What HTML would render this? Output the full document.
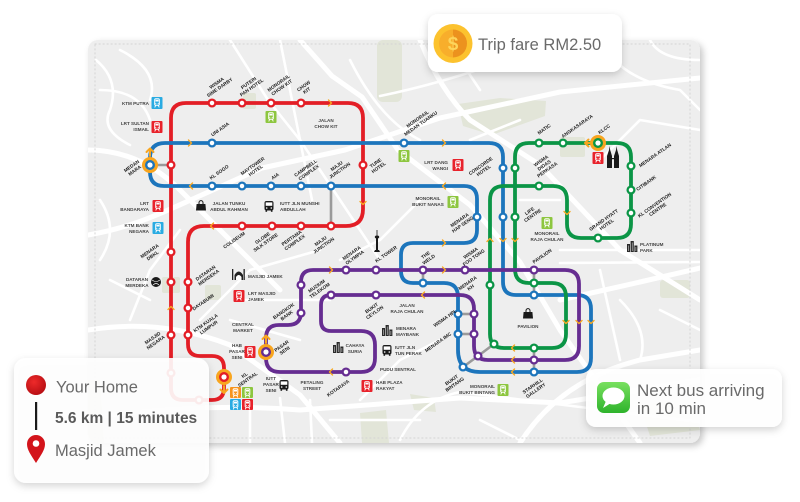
<!DOCTYPE html>
<html><head><meta charset="utf-8">
<style>
html,body{margin:0;padding:0;width:800px;height:502px;overflow:hidden;background:#fff;}
svg{position:absolute;left:0;top:0;}
.r{font-family:"Liberation Sans",sans-serif;font-weight:bold;font-size:4.8px;text-anchor:middle;fill:#1c1c1c;}
.p{font-family:"Liberation Sans",sans-serif;font-weight:bold;font-size:4.6px;fill:#444;}
.c{text-anchor:middle;}
.e{text-anchor:end;}
.big{font-family:"Liberation Sans",sans-serif;fill:#6a6a6a;}
</style></head>
<body>
<svg width="800" height="502" viewBox="0 0 800 502" xmlns="http://www.w3.org/2000/svg">
<defs>
<filter id="sh" x="-20%" y="-20%" width="140%" height="150%"><feDropShadow dx="0" dy="3" stdDeviation="4" flood-color="#000" flood-opacity="0.18"/></filter>
<filter id="sh2" x="-5%" y="-5%" width="112%" height="112%"><feDropShadow dx="3" dy="3" stdDeviation="3.5" flood-color="#000" flood-opacity="0.22"/></filter>
<clipPath id="mc"><rect x="88" y="40" width="612" height="403" rx="10"/></clipPath>
<linearGradient id="gmsg" x1="0" y1="0" x2="0" y2="1"><stop offset="0" stop-color="#78e05f"/><stop offset="1" stop-color="#2eb32c"/></linearGradient>
<radialGradient id="gred" cx="0.4" cy="0.35" r="0.7"><stop offset="0" stop-color="#ee2a2a"/><stop offset="1" stop-color="#b50d12"/></radialGradient>
<g id="tr"><rect x="3.2" y="1.8" width="4.6" height="6.4" rx="1.1" fill="none" stroke="#fff" stroke-width="1"/><rect x="4" y="2.8" width="3" height="1.7" fill="#fff"/><circle cx="4.3" cy="6.5" r=".5" fill="#fff"/><circle cx="6.7" cy="6.5" r=".5" fill="#fff"/><path d="M4.2 8.4 L3.2 10.4 M6.8 8.4 L7.8 10.4" stroke="#fff" stroke-width=".9"/></g>
<g id="bus"><rect x="0" y="0" width="9" height="9.5" rx="2" fill="#1a1a1a"/><rect x="1.2" y="1.4" width="6.6" height="3.4" fill="#fff"/><circle cx="2.2" cy="7" r=".8" fill="#fff"/><circle cx="6.8" cy="7" r=".8" fill="#fff"/><rect x="1" y="9.3" width="1.6" height="1.5" fill="#1a1a1a"/><rect x="6.4" y="9.3" width="1.6" height="1.5" fill="#1a1a1a"/></g>
<g id="bag"><path d="M0.6 4 L9.4 4 L10 10.5 L0 10.5 Z" fill="#1a1a1a"/><path d="M3 4.5 V2.6 a2 2 0 0 1 4 0 V4.5" fill="none" stroke="#1a1a1a" stroke-width="1"/></g>
<g id="bld"><rect x="0" y="3" width="3" height="8" fill="#2a2a2a"/><rect x="3.6" y="0" width="3.2" height="11" fill="#2a2a2a"/><rect x="7.4" y="4.5" width="3" height="6.5" fill="#2a2a2a"/><path d="M1.5 4.5V10M5.2 1.5V10M8.9 6V10" stroke="#eee" stroke-width=".5"/></g>
</defs>

<!-- map card -->
<rect x="88" y="40" width="612" height="403" rx="10" fill="#eeeeee" filter="url(#sh2)"/>
<g clip-path="url(#mc)" fill="none" stroke="#fff" stroke-linecap="round" stroke-linejoin="round">
  <!-- parks -->
  <g stroke="none" fill="#e2e5d8">
    <path d="M458 104 L500 98 L546 101 L545 116 L492 135 L463 126 Z"/>
    <rect x="560" y="137" width="25" height="20" rx="2"/>
    <rect x="377" y="40" width="25" height="62" rx="6"/>
    <rect x="243" y="93" width="13" height="16" rx="2"/>
    <rect x="162" y="277" width="18" height="16" rx="2"/>
    <rect x="205" y="285" width="16" height="15" rx="2"/>
    <path d="M360 413 L386 410 L389 443 L362 443 Z"/>
    <path d="M410 394 L434 398 L436 412 L414 410 Z"/>
    <path d="M640 405 L690 398 L700 430 L650 436 Z"/>
    <path d="M88 380 L100 380 L104 443 L88 443 Z"/>
    <rect x="660" y="280" width="30" height="18" rx="3"/>
  </g>
  <!-- major roads -->
  <g stroke-width="5">
    <path d="M88 235 C130 228 160 214 195 198 L262 168 L345 150 L440 118 L560 92 L700 78"/>
    <path d="M300 40 L332 76 L362 97 L398 150 L432 176 L470 205 L520 262 L560 330 L640 443"/>
    <path d="M88 330 Q160 318 230 345 L300 395 L340 443"/>
    <path d="M88 418 Q200 402 300 410 L460 398 L560 403 L700 380"/>
    <path d="M520 443 Q560 380 640 360 L700 350"/>
    <path d="M560 300 L640 282 L700 268"/>
    <path d="M420 40 Q440 90 470 120 L540 165 L620 250 L700 300"/>
    <path d="M88 150 Q140 150 180 190 L240 250 L280 290"/>
  </g>
  <g stroke-width="2.6">
    <path d="M230 40 L268 100 L300 140 L340 200 L380 260"/>
    <path d="M280 40 L312 200"/>
    <path d="M380 96 Q460 80 560 40"/>
    <path d="M560 250 L700 250"/>
    <path d="M560 263 L700 262"/>
    <path d="M600 270 L620 360"/>
    <path d="M240 300 L330 300 M230 320 L300 340 M250 400 L250 443 M280 398 L285 443 M310 400 L312 443"/>
    <path d="M400 440 Q420 400 460 392 L700 422"/>
    <path d="M96 60 Q120 80 110 110 Q100 130 130 145 M100 90 Q140 90 150 120 M120 50 Q160 70 150 100"/>
    <path d="M180 230 L150 270 L130 320 M200 320 L250 270 L320 250"/>
    <path d="M420 200 L380 240 L340 260 M440 340 L400 360 L360 400"/>
    <path d="M600 40 Q620 80 680 90 L700 110 M650 40 Q660 60 700 60"/>
    <path d="M520 200 L560 200 M470 140 L520 120 M600 160 L640 120 L700 130"/>
    <path d="M620 300 Q650 330 640 360 M660 310 L700 330"/>
    <path d="M100 200 Q120 230 100 260 M110 280 L150 300"/>
    <path d="M330 420 L420 420 M480 420 L520 440"/>
    <path d="M350 60 Q380 120 420 140 M460 60 L480 90"/>
  </g>
  <rect x="95" y="44" width="595" height="394" stroke="#d4d4d4" stroke-width="1" stroke-dasharray="1.2 2.8" fill="none"/>
</g>

<!-- connectors -->
<g stroke="#9a9a9a" stroke-width="2.6" fill="none">
  <path d="M150 165 L171 165"/>
  <path d="M331 186 L331 226"/>
  <path d="M423 270 L423 283"/>
  <path d="M534 270 L534 295"/>
  <path d="M458 314 L474 314"/>
  <path d="M458 334 L474 334"/>
  <path d="M534 348 L534 372"/>
  <path d="M463 367 L478 356 L494 344"/>
</g>

<!-- lines -->
<g fill="none" stroke-width="3.8" stroke-linejoin="round">
  <path stroke="#e31e26" d="M224 377 L224 388 Q224 400 212 400 L183 400 Q171 400 171 388 L171 118 Q171 103 186 103 L348 103 Q363 103 363 118 L363 209 Q363 226 346 226 L204 226 Q188 226 188 242 L188 344 Q188 356 200 356 L212 356 Q224 356 224 368 Z"/>
  <path stroke="#1c75bc" d="M150 165 L150 158 Q150 143 165 143 L489 143 Q503 143 503 157 L503 282 Q503 295 516 295 L577 295 Q591 295 591 309 L591 358 Q591 372 577 372 L480 372 Q458 372 458 350 L458 297 Q458 283 444 283 L413 283 Q401 283 401 271 L401 255 Q401 243 413 243 L464 243 Q477 243 477 230 L477 199 Q477 186 464 186 L164 186 Q150 186 150 172 Z"/>
  <path stroke="#0b9546" d="M515 157 Q515 143 529 143 L617 143 Q631 143 631 157 L631 224 Q631 238 617 238 L581 238 Q567 238 567 224 L567 200 Q567 186 553 186 L504 186 Q490 186 490 200 L490 334 Q490 348 504 348 L552 348 Q566 348 566 334 L566 297 Q566 283 552 283 L529 283 Q515 283 515 269 Z"/>
  <path stroke="#662d91" d="M313 270 L565 270 Q579 270 579 284 L579 346 Q579 360 565 360 L488 360 Q474 360 474 346 L474 309 Q474 295 460 295 L331 295 Q321 295 321 305 L321 321 Q321 331 331 331 L361 331 Q375 331 375 345 L375 358 Q375 372 361 372 L280 372 Q266 372 266 358 L266 338 Q266 325 279 325 L288 325 Q301 325 301 312 L301 282 Q301 270 313 270 Z"/>
</g>

<!-- stations -->
<g fill="#fff" stroke-width="2.3">
  <g stroke="#e31e26">
    <circle cx="212" cy="103" r="3.4"/><circle cx="242" cy="103" r="3.4"/><circle cx="271" cy="103" r="3.4"/><circle cx="301" cy="103" r="3.4"/>
    <circle cx="171" cy="165" r="3.4"/><circle cx="363" cy="165" r="3.4"/>
    <circle cx="242" cy="226" r="3.4"/><circle cx="272" cy="226" r="3.4"/><circle cx="301" cy="226" r="3.4"/><circle cx="331" cy="226" r="3.4"/>
    <circle cx="171" cy="252" r="3.4"/><circle cx="171" cy="282" r="3.4"/><circle cx="171" cy="335" r="3.4"/>
    <circle cx="188" cy="282" r="3.4"/><circle cx="188" cy="308" r="3.4"/><circle cx="188" cy="335" r="3.4"/>
    <circle cx="171" cy="373" r="3.4"/><circle cx="199" cy="400" r="3.4"/>
  </g>
  <g stroke="#1c75bc">
    <circle cx="212" cy="143" r="3.4"/><circle cx="404" cy="143" r="3.4"/>
    <circle cx="212" cy="186" r="3.4"/><circle cx="242" cy="186" r="3.4"/><circle cx="271" cy="186" r="3.4"/><circle cx="301" cy="186" r="3.4"/><circle cx="331" cy="186" r="3.4"/>
    <circle cx="503" cy="168" r="3.4"/><circle cx="477" cy="217" r="3.4"/><circle cx="503" cy="217" r="3.4"/>
    <circle cx="423" cy="283" r="3.4"/><circle cx="534" cy="295" r="3.4"/>
    <circle cx="458" cy="314" r="3.4"/><circle cx="458" cy="334" r="3.4"/><circle cx="463" cy="367" r="3.4"/><circle cx="534" cy="372" r="3.4"/>
  </g>
  <g stroke="#0b9546">
    <circle cx="539" cy="143" r="3.4"/><circle cx="563" cy="143" r="3.4"/>
    <circle cx="631" cy="166" r="3.4"/><circle cx="631" cy="190" r="3.4"/><circle cx="631" cy="213" r="3.4"/><circle cx="598" cy="238" r="3.4"/>
    <circle cx="539" cy="186" r="3.4"/><circle cx="515" cy="168" r="3.4"/><circle cx="515" cy="217" r="3.4"/>
    <circle cx="490" cy="285" r="3.4"/><circle cx="534" cy="283" r="3.4"/><circle cx="494" cy="344" r="3.4"/><circle cx="534" cy="348" r="3.4"/>
  </g>
  <g stroke="#662d91">
    <circle cx="346" cy="270" r="3.4"/><circle cx="376" cy="270" r="3.4"/><circle cx="423" cy="270" r="3.4"/><circle cx="465" cy="270" r="3.4"/><circle cx="534" cy="270" r="3.4"/>
    <circle cx="301" cy="285" r="3.4"/><circle cx="301" cy="313" r="3.4"/>
    <circle cx="331" cy="295" r="3.4"/><circle cx="376" cy="295" r="3.4"/>
    <circle cx="474" cy="314" r="3.4"/><circle cx="474" cy="334" r="3.4"/><circle cx="478" cy="356" r="3.4"/>
    <circle cx="534" cy="360" r="3.4"/><circle cx="346" cy="372" r="3.4"/>
  </g>
</g>

<!-- interchange markers -->
<g>
  <circle cx="150" cy="165" r="8" fill="#f8a51f"/><circle cx="150" cy="165" r="3.8" fill="#fff" stroke="#1c75bc" stroke-width="2.4"/>
  <circle cx="598" cy="143" r="8" fill="#f8a51f"/><circle cx="598" cy="143" r="3.8" fill="#fff" stroke="#0b9546" stroke-width="2.4"/>
  <circle cx="266" cy="352" r="8" fill="#f8a51f"/><circle cx="266" cy="352" r="3.8" fill="#fff" stroke="#662d91" stroke-width="2.4"/>
  <circle cx="224" cy="377" r="8" fill="#f8a51f"/><circle cx="224" cy="377" r="3.8" fill="#fff" stroke="#e31e26" stroke-width="2.4"/>
</g>
<g fill="none" stroke="#f8a51f" stroke-width="2" stroke-linecap="round" stroke-linejoin="round">
  <path d="M150 156 L150 149 M146.5 152 L150 148.5 L153.5 152"/>
  <path d="M590 143 L585 143 M588.5 139.5 L585 143 L588.5 146.5"/>
  <path d="M266 343 L266 336 M262.5 339 L266 335.5 L269.5 339"/>
  <path d="M224 386 L224 393 M220.5 389.5 L224 393 L227.5 389.5"/>
</g>
<!-- direction chevrons -->
<g fill="none" stroke="#f7a823" stroke-width="1.4" stroke-linecap="round" stroke-linejoin="round">
  <path d="M328.5 100 L331.5 103 L328.5 106"/>
  <path d="M360 201.5 L363 204.5 L366 201.5"/>
  <path d="M213.5 223 L210.5 226 L213.5 229"/>
  <path d="M168 309.5 L171 306.5 L174 309.5"/>
  <path d="M188.5 140 L191.5 143 L188.5 146"/>
  <path d="M442.5 140 L445.5 143 L442.5 146"/>
  <path d="M192.5 183 L189.5 186 L192.5 189"/>
  <path d="M445.5 183 L442.5 186 L445.5 189"/>
  <path d="M500 238.5 L503 241.5 L506 238.5"/>
  <path d="M442.5 240 L445.5 243 L442.5 246"/>
  <path d="M588 320.5 L591 323.5 L594 320.5"/>
  <path d="M514.5 369 L511.5 372 L514.5 375"/>
  <path d="M564 211.5 L567 214.5 L570 211.5"/>
  <path d="M487 241.5 L490 238.5 L493 241.5"/>
  <path d="M512 238.5 L515 241.5 L518 238.5"/>
  <path d="M563 320.5 L566 323.5 L569 320.5"/>
  <path d="M514.5 345 L511.5 348 L514.5 351"/>
  <path d="M329.5 267 L332.5 270 L329.5 273"/>
  <path d="M442.5 267 L445.5 270 L442.5 273"/>
  <path d="M576 320.5 L579 323.5 L582 320.5"/>
  <path d="M514.5 357 L511.5 360 L514.5 363"/>
  <path d="M424.5 292 L421.5 295 L424.5 298"/>
  <path d="M332.5 369 L329.5 372 L332.5 375"/>
</g>

<!-- rail icons -->
<g>
  <g transform="translate(151.5,97)"><rect width="11" height="12" rx="1" fill="#29abe2"/><use href="#tr"/></g>
  <g transform="translate(152.5,222)"><rect width="11" height="12" rx="1" fill="#29abe2"/><use href="#tr"/></g>
  <g transform="translate(151.5,121)"><rect width="11" height="12" rx="1" fill="#e8222b"/><use href="#tr"/></g>
  <g transform="translate(152.5,200)"><rect width="11" height="12" rx="1" fill="#e8222b"/><use href="#tr"/></g>
  <g transform="translate(452.5,159)"><rect width="11" height="12" rx="1" fill="#e8222b"/><use href="#tr"/></g>
  <g transform="translate(233.5,290)"><rect width="11" height="12" rx="1" fill="#e8222b"/><use href="#tr"/></g>
  <g transform="translate(244.5,346)"><rect width="11" height="12" rx="1" fill="#e8222b"/><use href="#tr"/></g>
  <g transform="translate(361.5,380)"><rect width="11" height="12" rx="1" fill="#e8222b"/><use href="#tr"/></g>
  <g transform="translate(592.5,152)"><rect width="11" height="12" rx="1" fill="#e8222b"/><use href="#tr"/></g>
  <g transform="translate(265.5,111)"><rect width="11" height="12" rx="1" fill="#8dc63f"/><use href="#tr"/></g>
  <g transform="translate(398.5,150)"><rect width="11" height="12" rx="1" fill="#8dc63f"/><use href="#tr"/></g>
  <g transform="translate(447.5,196)"><rect width="11" height="12" rx="1" fill="#8dc63f"/><use href="#tr"/></g>
  <g transform="translate(541.5,217)"><rect width="11" height="12" rx="1" fill="#8dc63f"/><use href="#tr"/></g>
  <g transform="translate(497.5,384)"><rect width="11" height="12" rx="1" fill="#8dc63f"/><use href="#tr"/></g>
  <!-- KL Sentral group -->
  <g transform="translate(230,387)"><rect width="11" height="11" rx="1" fill="#f7941d"/><use href="#tr"/></g>
  <g transform="translate(242,387)"><rect width="11" height="11" rx="1" fill="#8dc63f"/><use href="#tr"/></g>
  <g transform="translate(230,399)"><rect width="11" height="11" rx="1" fill="#29abe2"/><use href="#tr"/></g>
  <g transform="translate(242,399)"><rect width="11" height="11" rx="1" fill="#e8222b"/><use href="#tr"/></g>
</g>
<!-- other icons -->
<g>
  <use href="#bag" transform="translate(196,200)"/>
  <use href="#bag" transform="translate(523,308)"/>
  <use href="#bus" transform="translate(264.5,201)"/>
  <use href="#bus" transform="translate(279.5,380)"/>
  <use href="#bus" transform="translate(382.5,345)"/>
  <use href="#bld" transform="translate(333,342)"/>
  <use href="#bld" transform="translate(382,325)"/>
  <use href="#bld" transform="translate(627,241)"/>
  <circle cx="156" cy="282" r="5" fill="#1a1a1a"/><path d="M152 280 Q156 283 160 280 M153 285 Q156 282 159 285" stroke="#fff" stroke-width=".6" fill="none"/>
  <g fill="#222"><rect x="232" y="269" width="1.3" height="11"/><rect x="243.5" y="269" width="1.3" height="11"/><path d="M234.5 280 V275 Q238.7 268 243 275 V280 Z"/><path d="M236 280 V277 Q238.7 273 241.5 277 V280 Z" fill="#fff"/></g>
  <g fill="#1a1a1a"><rect x="376" y="236" width="2" height="14"/><path d="M375 250 L379 250 L380 252 L374 252 Z"/><ellipse cx="377" cy="237" rx="2.2" ry="1.5"/><rect x="376.6" y="230" width=".8" height="6"/></g>
  <g fill="#1a1a1a"><path d="M607 168 L607 156 L609 150 L609.6 146 L610.2 150 L612 156 L612 168 Z"/><path d="M614 168 L614 156 L616 150 L616.6 146 L617.2 150 L619 156 L619 168 Z"/><rect x="611" y="158" width="4" height="1.2"/></g>
</g>

<!-- POI labels -->
<g class="p">
  <text x="149" y="105" class="e">KTM PUTRA</text>
  <text class="e"><tspan x="149" y="125">LRT SULTAN</tspan><tspan x="149" y="131">ISMAIL</tspan></text>
  <text class="c"><tspan x="326" y="122">JALAN</tspan><tspan x="326" y="128">CHOW KIT</tspan></text>
  <text class="e"><tspan x="448" y="164">LRT DANG</tspan><tspan x="448" y="170">WANGI</tspan></text>
  <text class="e"><tspan x="149" y="205">LRT</tspan><tspan x="149" y="211">BANDARAYA</tspan></text>
  <text class="e"><tspan x="149" y="227">KTM BANK</tspan><tspan x="149" y="233">NEGARA</tspan></text>
  <text class="c"><tspan x="229" y="205">JALAN TUNKU</tspan><tspan x="229" y="211">ABDUL RAHMAN</tspan></text>
  <text><tspan x="280" y="205">IUTT JLN MUNSHI</tspan><tspan x="280" y="211">ABDULLAH</tspan></text>
  <text class="c"><tspan x="428" y="200">MONORAIL</tspan><tspan x="428" y="206">BUKIT NANAS</tspan></text>
  <text class="c"><tspan x="547" y="235">MONORAIL</tspan><tspan x="547" y="241">RAJA CHULAN</tspan></text>
  <text><tspan x="640" y="246">PLATINUM</tspan><tspan x="640" y="252">PARK</tspan></text>
  <text class="c"><tspan x="137" y="281">DATARAN</tspan><tspan x="137" y="287">MERDEKA</tspan></text>
  <text x="248" y="278">MASJID JAMEK</text>
  <text><tspan x="248" y="295">LRT MASJID</tspan><tspan x="248" y="301">JAMEK</tspan></text>
  <text class="c"><tspan x="243" y="326">CENTRAL</tspan><tspan x="243" y="332">MARKET</tspan></text>
  <text class="c"><tspan x="237" y="347">HAB</tspan><tspan x="237" y="353">PASAR</tspan><tspan x="237" y="359">SENI</tspan></text>
  <text class="c"><tspan x="271" y="380">IUTT</tspan><tspan x="271" y="386">PASAR</tspan><tspan x="271" y="392">SENI</tspan></text>
  <text class="c"><tspan x="312" y="384">PETALING</tspan><tspan x="312" y="390">STREET</tspan></text>
  <text class="c"><tspan x="355" y="347">CAHAYA</tspan><tspan x="355" y="353">SURIA</tspan></text>
  <text class="c"><tspan x="407" y="307">JALAN</tspan><tspan x="407" y="313">RAJA CHULAN</tspan></text>
  <text><tspan x="396" y="330">MENARA</tspan><tspan x="396" y="336">MAYBANK</tspan></text>
  <text><tspan x="395" y="349">IUTT JLN</tspan><tspan x="395" y="355">TUN PERAK</tspan></text>
  <text x="380" y="371">PUDU SENTRAL</text>
  <text><tspan x="376" y="384">HAB PLAZA</tspan><tspan x="376" y="390">RAKYAT</tspan></text>
  <text class="e"><tspan x="495" y="388">MONORAIL</tspan><tspan x="495" y="394">BUKIT BINTANG</tspan></text>
  <text x="528" y="328" class="c">PAVILION</text>
</g>

<!-- station labels (rotated) -->
<g class="r">
  <text transform="translate(218,85) rotate(-35)"><tspan x="0" y="-0.8">WISMA</tspan><tspan x="0" y="4.6">SIME DARBY</tspan></text>
  <text transform="translate(250,85) rotate(-35)"><tspan x="0" y="-0.8">PUTERI</tspan><tspan x="0" y="4.6">PAN HOTEL</tspan></text>
  <text transform="translate(280,85) rotate(-35)"><tspan x="0" y="-0.8">MONORAIL</tspan><tspan x="0" y="4.6">CHOW KIT</tspan></text>
  <text transform="translate(305,88) rotate(-35)"><tspan x="0" y="-0.8">CHOW</tspan><tspan x="0" y="4.6">KIT</tspan></text>
  <text transform="translate(220,129) rotate(-35)" y="1.8">UNI ASIA</text>
  <text transform="translate(419,121) rotate(-35)"><tspan x="0" y="-0.8">MONORAIL</tspan><tspan x="0" y="4.6">MEDAN TUANKU</tspan></text>
  <text transform="translate(133,168) rotate(-35)"><tspan x="0" y="-0.8">MEDAN</tspan><tspan x="0" y="4.6">MARA</tspan></text>
  <text transform="translate(219,172) rotate(-35)" y="1.8">KL SOGO</text>
  <text transform="translate(254,168) rotate(-35)"><tspan x="0" y="-0.8">MAYTOWER</tspan><tspan x="0" y="4.6">HOTEL</tspan></text>
  <text transform="translate(275,176) rotate(-35)" y="1.8">AIA</text>
  <text transform="translate(307,170) rotate(-35)"><tspan x="0" y="-0.8">CAMPBELL</tspan><tspan x="0" y="4.6">COMPLEX</tspan></text>
  <text transform="translate(338,168) rotate(-35)"><tspan x="0" y="-0.8">MAJU</tspan><tspan x="0" y="4.6">JUNCTION</tspan></text>
  <text transform="translate(377,165) rotate(-35)"><tspan x="0" y="-0.8">TUNE</tspan><tspan x="0" y="4.6">HOTEL</tspan></text>
  <text transform="translate(234,240) rotate(-35)" y="1.8">COLISEUM</text>
  <text transform="translate(264,240) rotate(-35)"><tspan x="0" y="-0.8">GLOBE</tspan><tspan x="0" y="4.6">SILK STORE</tspan></text>
  <text transform="translate(293,240) rotate(-35)"><tspan x="0" y="-0.8">PERTAMA</tspan><tspan x="0" y="4.6">COMPLEX</tspan></text>
  <text transform="translate(322,243) rotate(-35)"><tspan x="0" y="-0.8">MAJU</tspan><tspan x="0" y="4.6">JUNCTION</tspan></text>
  <text transform="translate(151,253) rotate(-35)"><tspan x="0" y="-0.8">MENARA</tspan><tspan x="0" y="4.6">DBKL</tspan></text>
  <text transform="translate(207,275) rotate(-35)"><tspan x="0" y="-0.8">DATARAN</tspan><tspan x="0" y="4.6">MERDEKA</tspan></text>
  <text transform="translate(203,302) rotate(-35)" y="1.8">DAYABUMI</text>
  <text transform="translate(207,325) rotate(-35)"><tspan x="0" y="-0.8">KTM KUALA</tspan><tspan x="0" y="4.6">LUMPUR</tspan></text>
  <text transform="translate(154,340) rotate(-35)"><tspan x="0" y="-0.8">MASJID</tspan><tspan x="0" y="4.6">NEGARA</tspan></text>
  <text transform="translate(353,255) rotate(-35)"><tspan x="0" y="-0.8">MENARA</tspan><tspan x="0" y="4.6">OLYMPIA</tspan></text>
  <text transform="translate(386,254) rotate(-35)" y="1.8">KL TOWER</text>
  <text transform="translate(427,257) rotate(-35)"><tspan x="0" y="-0.8">THE</tspan><tspan x="0" y="4.6">WELD</tspan></text>
  <text transform="translate(472,255) rotate(-35)"><tspan x="0" y="-0.8">WISMA</tspan><tspan x="0" y="4.6">FOO TONG</tspan></text>
  <text transform="translate(542,256) rotate(-35)" y="1.8">PAVILION</text>
  <text transform="translate(318,288) rotate(-35)"><tspan x="0" y="-0.8">MUZIUM</tspan><tspan x="0" y="4.6">TELEKOM</tspan></text>
  <text transform="translate(285,313) rotate(-35)"><tspan x="0" y="-0.8">BANGKOK</tspan><tspan x="0" y="4.6">BANK</tspan></text>
  <text transform="translate(283,348) rotate(-35)"><tspan x="0" y="-0.8">PASAR</tspan><tspan x="0" y="4.6">SENI</tspan></text>
  <text transform="translate(373,310) rotate(-35)"><tspan x="0" y="-0.8">BUKIT</tspan><tspan x="0" y="4.6">CEYLON</tspan></text>
  <text transform="translate(338,388) rotate(-35)" y="1.8">KOTARAYA</text>
  <text transform="translate(246,377) rotate(-35)"><tspan x="0" y="-0.8">KL</tspan><tspan x="0" y="4.6">SENTRAL</tspan></text>
  <text transform="translate(482,168) rotate(-35)"><tspan x="0" y="-0.8">CONCORDE</tspan><tspan x="0" y="4.6">HOTEL</tspan></text>
  <text transform="translate(544,165) rotate(-35)"><tspan x="0" y="-3.5">WISMA</tspan><tspan x="0" y="1.9">DIDAS</tspan><tspan x="0" y="7.3">PERKASA</tspan></text>
  <text transform="translate(544,129) rotate(-35)" y="1.8">MATIC</text>
  <text transform="translate(577,126) rotate(-35)" y="1.8">ANGKASARAYA</text>
  <text transform="translate(604,129) rotate(-35)" y="1.8">KLCC</text>
  <text transform="translate(655,155) rotate(-35)" y="1.8">MENARA ATLAN</text>
  <text transform="translate(646,183) rotate(-35)" y="1.8">CITIBANK</text>
  <text transform="translate(656,207) rotate(-35)"><tspan x="0" y="-0.8">KL CONVENTION</tspan><tspan x="0" y="4.6">CENTRE</tspan></text>
  <text transform="translate(605,222) rotate(-35)"><tspan x="0" y="-0.8">GRAND HYATT</tspan><tspan x="0" y="4.6">HOTEL</tspan></text>
  <text transform="translate(531,213) rotate(-35)"><tspan x="0" y="-0.8">LIFE</tspan><tspan x="0" y="4.6">CENTRE</tspan></text>
  <text transform="translate(461,222) rotate(-35)"><tspan x="0" y="-0.8">MENARA</tspan><tspan x="0" y="4.6">HAP SENG</tspan></text>
  <text transform="translate(469,285) rotate(-35)"><tspan x="0" y="-0.8">MENARA</tspan><tspan x="0" y="4.6">KH</tspan></text>
  <text transform="translate(445,318) rotate(-35)" y="1.8">WISMA HPL</text>
  <text transform="translate(438,342) rotate(-35)" y="1.8">MENARA IMC</text>
  <text transform="translate(453,382) rotate(-35)"><tspan x="0" y="-0.8">BUKIT</tspan><tspan x="0" y="4.6">BINTANG</tspan></text>
  <text transform="translate(534,388) rotate(-35)"><tspan x="0" y="-0.8">STARHILL</tspan><tspan x="0" y="4.6">GALLERY</tspan></text>
</g>

<!-- Trip fare card -->
<rect x="428" y="14" width="194" height="58" rx="10" fill="#fff" filter="url(#sh)"/>
<circle cx="453" cy="43.5" r="19.5" fill="#fcc22e"/>
<path d="M453 29.5 A14 14 0 0 0 453 57.5 Z" fill="#f8ae2b"/>
<path d="M453 29.5 A14 14 0 0 1 453 57.5 Z" fill="#ec921e"/>
<text x="453" y="50" font-family="Liberation Sans, sans-serif" font-weight="bold" font-size="19" fill="#fdd45a" text-anchor="middle">$</text>
<text x="478" y="50" class="big" font-size="16.5">Trip fare RM2.50</text>

<!-- Your Home card -->
<rect x="14" y="358" width="195" height="125" rx="12" fill="#fff" fill-opacity="0.9" filter="url(#sh)"/>
<circle cx="36" cy="385" r="10" fill="url(#gred)"/>
<rect x="35" y="402" width="2.2" height="28" fill="#1a1a1a"/>
<path d="M36 463 C31 455 27 450 27 444 A9 9 0 1 1 45 444 C45 450 41 455 36 463 Z" fill="#d3141b"/>
<circle cx="36" cy="443.5" r="3.3" fill="#fff"/>
<text x="56" y="392.5" class="big" font-size="16.5">Your Home</text>
<text x="55" y="423" font-family="Liberation Sans, sans-serif" font-weight="bold" font-size="15.5" fill="#5a5a5a">5.6 km | 15 minutes</text>
<text x="55" y="456" class="big" font-size="16.5">Masjid Jamek</text>

<!-- Next bus card -->
<rect x="586" y="369" width="196" height="58" rx="10" fill="#fff" fill-opacity="0.95" filter="url(#sh)"/>
<rect x="597" y="382" width="33" height="31" rx="7" fill="url(#gmsg)"/>
<ellipse cx="613.5" cy="396" rx="11" ry="8.5" fill="#fff"/>
<path d="M606 401 L603 408 L611 403 Z" fill="#fff"/>
<text x="637" y="396" class="big" font-size="17">Next bus arriving</text>
<text x="637" y="414" class="big" font-size="17">in 10 min</text>
</svg>
</body></html>
